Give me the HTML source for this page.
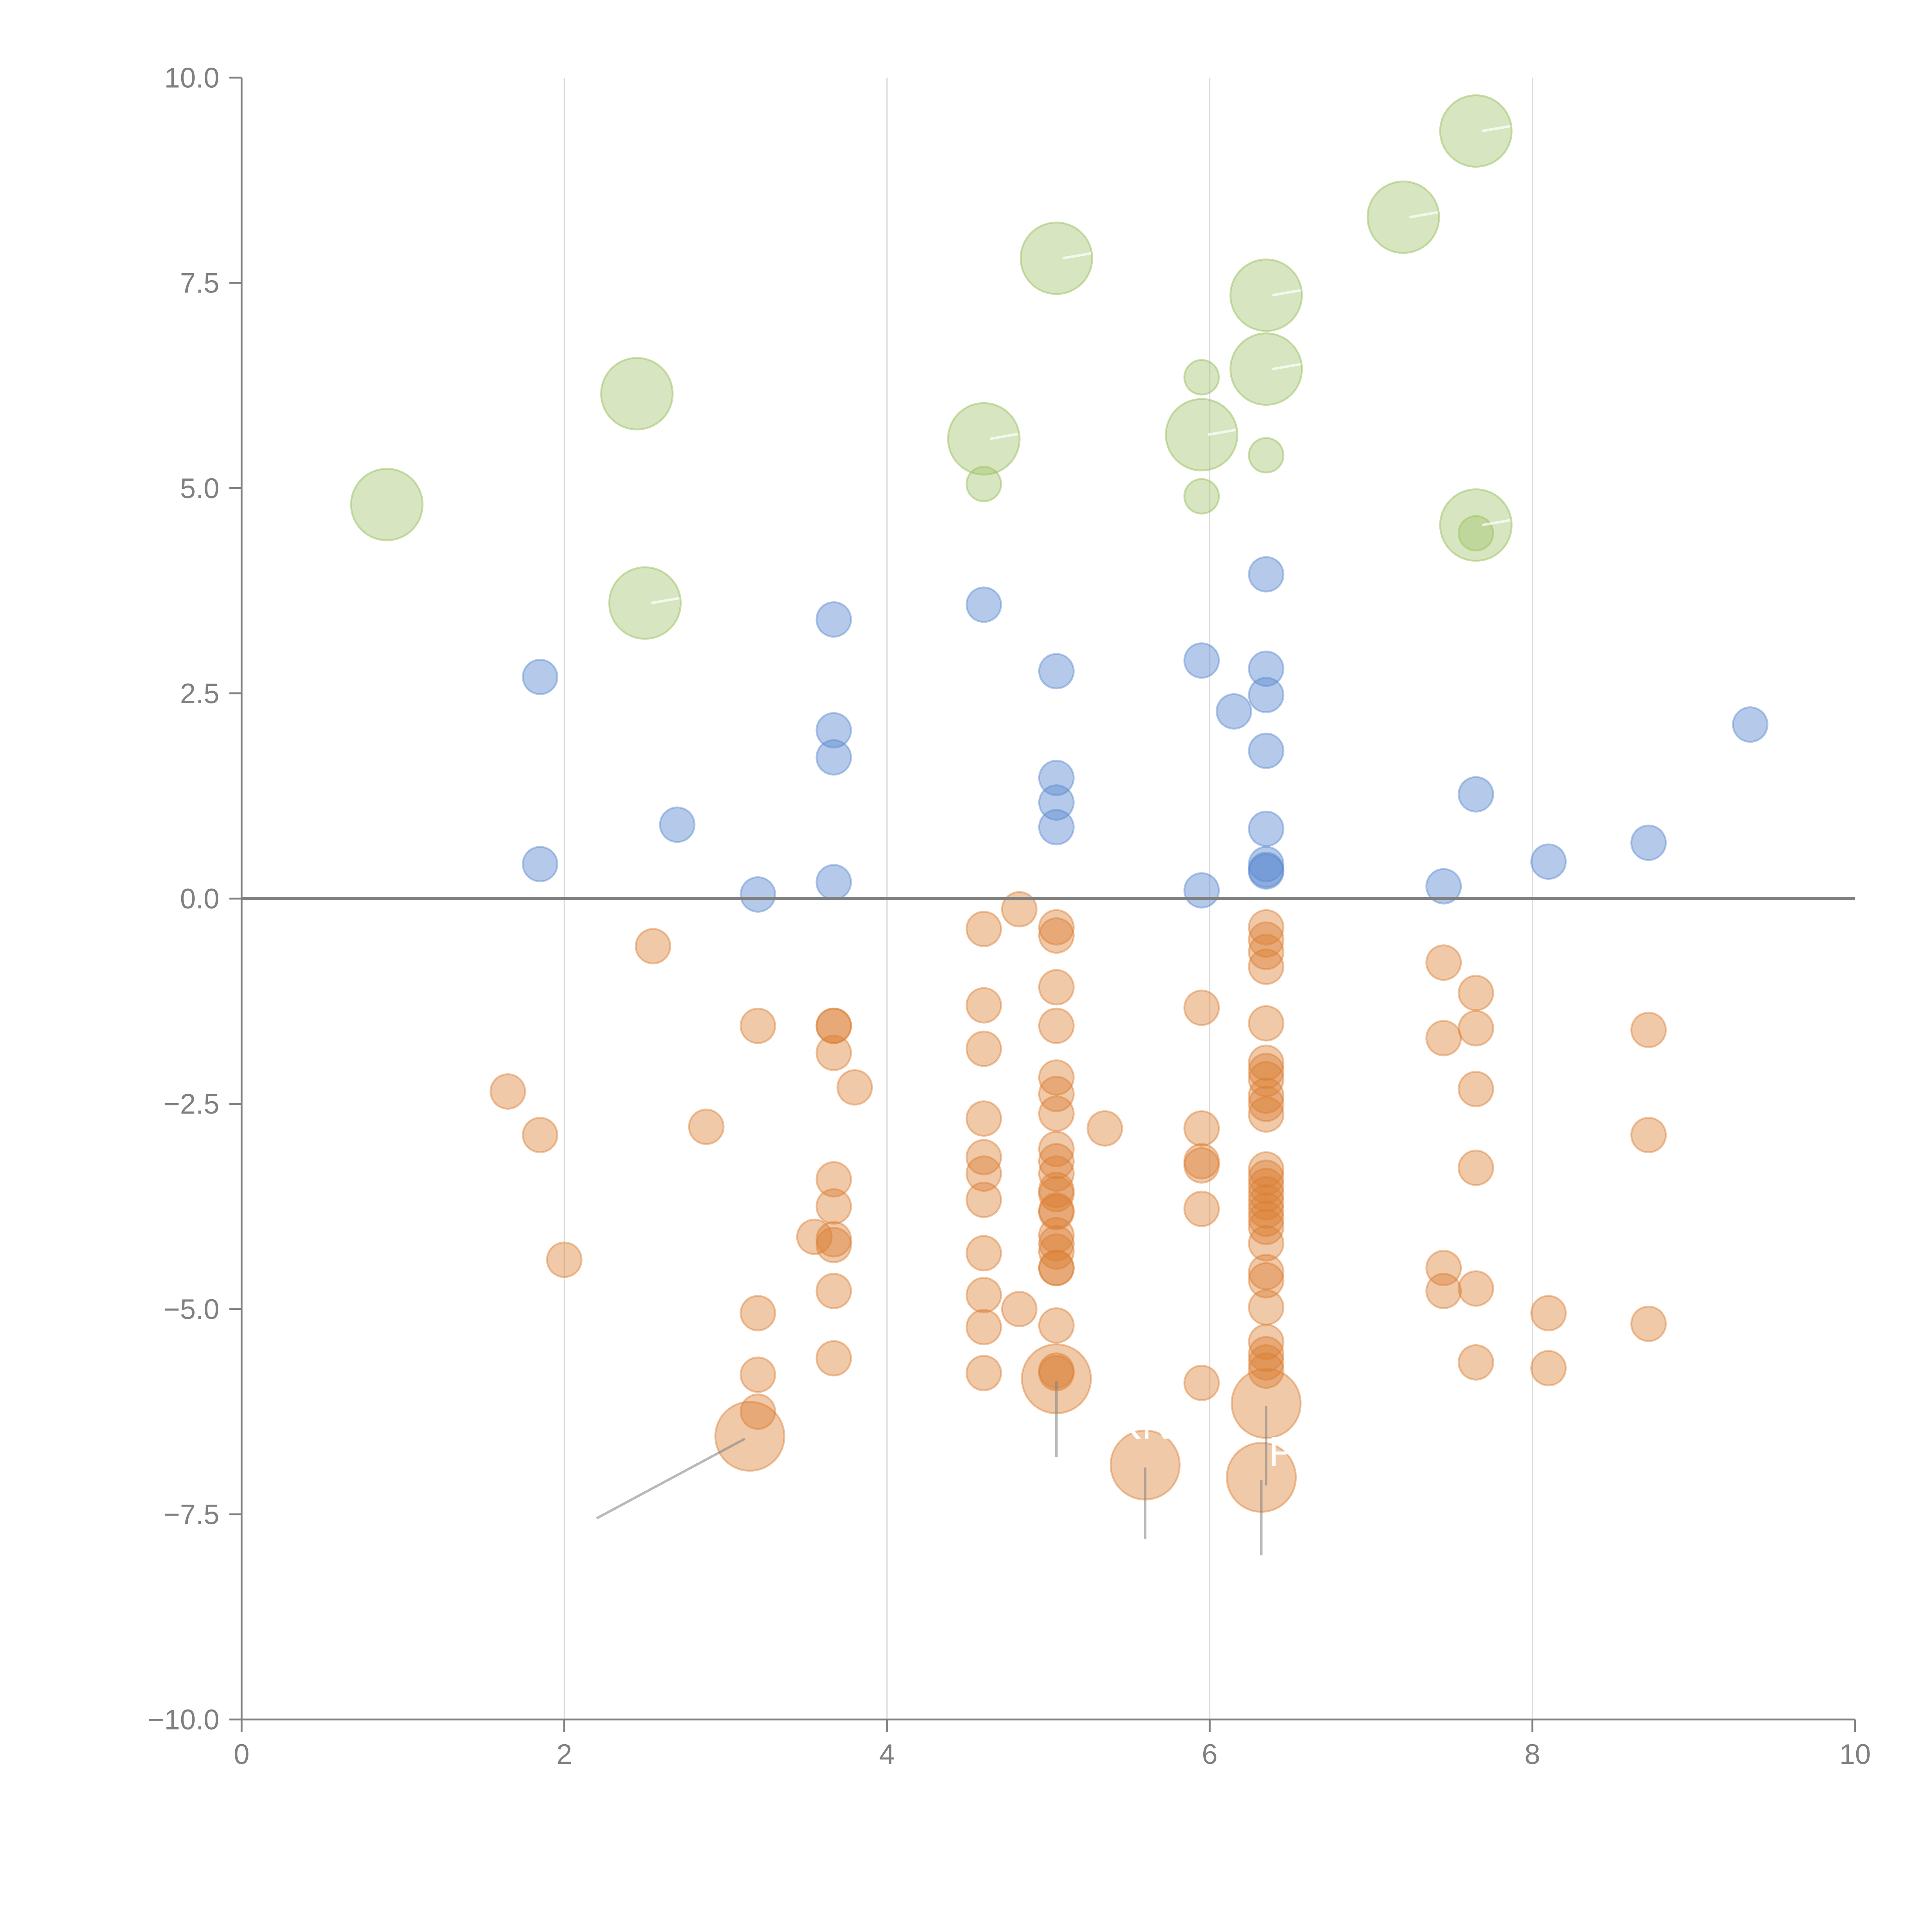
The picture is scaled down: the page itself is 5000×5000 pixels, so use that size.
<!DOCTYPE html>
<html><head><meta charset="utf-8">
<style>
html,body{margin:0;padding:0;background:#fff;}
svg{display:block;}
text{font-family:"Liberation Sans",sans-serif;}
</style></head>
<body>
<svg id="chart" width="5000" height="5000" viewBox="0 0 1567.4 1567.4" xmlns="http://www.w3.org/2000/svg">
<g id="grid"></g>
<g id="marks"></g>
<g id="axes"></g>
</svg>
<script>
const xTicks=[0,2,4,6,8,10];
const yTicks=[-10,-7.5,-5,-2.5,0,2.5,5,7.5,10];
const yTickLabels=["\u221210.0","\u22127.5","\u22125.0","\u22122.5","0.0","2.5","5.0","7.5","10.0"];
const greenX=[0.9,2.45,2.5,4.6,5.05,5.95,6.35,6.35,7.2,7.65,7.65,4.6,5.95,5.95,6.35,7.65];
const greenY=[4.8,6.15,3.6,5.6,7.8,5.65,7.35,6.45,8.3,9.35,4.55,5.05,6.35,4.9,5.4,4.45];
const greenBig=[1,1,1,1,1,1,1,1,1,1,1,0,0,0,0,0];
const blueX=[1.85,1.85,2.7,3.2,3.67,3.67,3.67,3.67,4.6,5.05,5.05,5.05,5.05,5.95,5.95,6.15,6.35,6.35,6.35,6.35,6.35,6.35,6.35,6.35,7.45,7.65,8.1,8.72,9.35];
const blueY=[2.7,0.42,0.9,0.05,3.4,2.05,1.72,0.2,3.58,2.77,1.47,1.17,0.87,2.9,0.1,2.28,3.95,2.8,2.48,1.8,0.85,0.42,0.35,0.33,0.15,1.27,0.45,0.68,2.12];
const orangeX=[1.65,1.85,2.0,2.55,2.88,3.2,3.2,3.2,3.2,3.55,
3.67,3.67,3.67,3.67,3.67,3.67,3.67,3.67,3.67,3.8,
4.6,4.6,4.6,4.6,4.6,4.6,4.6,4.6,4.6,4.6,4.6,4.82,4.82,
5.05,5.05,5.05,5.05,5.05,5.05,5.05,5.05,5.05,5.05,5.05,5.05,5.05,5.05,5.05,5.05,5.05,5.05,5.05,5.05,5.05,5.05,
5.35,5.95,5.95,5.95,5.95,5.95,5.95,
6.35,6.35,6.35,6.35,6.35,6.35,6.35,6.35,6.35,6.35,6.35,6.35,6.35,6.35,6.35,6.35,6.35,6.35,6.35,6.35,6.35,6.35,6.35,6.35,6.35,6.35,6.35,
7.45,7.45,7.45,7.45,7.65,7.65,7.65,7.65,7.65,7.65,8.1,8.1,8.72,8.72,8.72];
const orangeY=[-2.35,-2.88,-4.4,-0.58,-2.78,-1.55,-5.05,-5.8,-6.25,-4.12,
-1.55,-1.55,-1.88,-3.42,-3.75,-4.15,-4.22,-4.78,-5.6,-2.3,
-0.37,-1.3,-1.83,-2.68,-3.15,-3.35,-3.67,-4.32,-4.83,-5.22,-5.78,-0.13,-5.0,
-0.35,-0.45,-1.08,-1.55,-2.18,-2.38,-2.62,-3.05,-3.2,-3.35,-3.55,-3.6,-3.8,-3.82,-4.1,-4.2,-4.3,-4.5,-4.5,-5.2,-5.75,-5.78,
-2.8,-1.33,-2.8,-3.2,-3.25,-3.78,-5.9,
-0.35,-0.5,-0.65,-0.83,-1.52,-2.0,-2.1,-2.2,-2.4,-2.5,-2.63,-3.3,-3.4,-3.5,-3.6,-3.7,-3.8,-3.9,-4.0,-4.2,-4.55,-4.65,-4.98,-5.4,-5.55,-5.65,-5.75,
-0.78,-1.7,-4.5,-4.78,-1.15,-1.58,-2.32,-3.28,-4.75,-5.65,-5.05,-5.72,-1.6,-2.88,-5.18];
const orangeBigX=[5.05,3.15,5.6,6.35,6.32];
const orangeBigY=[-5.85,-6.55,-6.9,-6.15,-7.05];
const leaderX2=[5.05,2.2,5.6,6.35,6.32];
const leaderY2=[-6.8,-7.55,-7.8,-7.15,-8.0];

const NS="http://www.w3.org/2000/svg";
const L=196,R=1505,T=63,B=1395;
function sx(v){return L+(v-0)/(10-0)*(R-L);}
function sy(v){return B-(v+10)/20*(B-T);}
function el(tag,attrs,parent){const e=document.createElementNS(NS,tag);for(const k in attrs)e.setAttribute(k,attrs[k]);parent.appendChild(e);return e;}
const grid=document.getElementById('grid'),marks=document.getElementById('marks'),axes=document.getElementById('axes');

xTicks.forEach(t=>{if(t>0&&t<10){const g=el('line',{x1:sx(t),x2:sx(t),y1:T,y2:B,stroke:'#dcdcdc','stroke-width':1},grid);

}});

function circ(x,y,r,fill,stroke,name){const c=el('circle',{cx:sx(x),cy:sy(y),r:r,fill:fill,stroke:stroke,'stroke-width':1.5},marks);

}
const gF='rgba(160,195,105,0.42)',gS='rgba(160,195,105,0.55)';
const bF='rgba(91,138,208,0.45)',bS='rgba(91,138,208,0.45)';
const oF='rgba(219,126,50,0.42)',oS='rgba(219,126,50,0.45)';
greenX.forEach((x,i)=>circ(x,greenY[i],greenBig[i]?29:14,gF,gS,'green-bubble'));
blueX.forEach((x,i)=>circ(x,blueY[i],14,bF,bS,'blue-bubble'));
orangeX.forEach((x,i)=>circ(x,orangeY[i],14,oF,oS,'orange-bubble'));
orangeBigX.forEach((x,i)=>circ(x,orangeBigY[i],28,oF,oS,'orange-large-bubble'));
greenX.forEach((x,i)=>{if(greenBig[i]&&i>1){const w=el('line',{x1:sx(x)+5,y1:sy(greenY[i]),x2:sx(x)+28,y2:sy(greenY[i])-4,stroke:'rgba(255,255,255,0.7)','stroke-width':2},marks);

}});
orangeBigX.forEach((x,i)=>{const ln=el('line',{x1:sx(x)+(i==1?-4:0),y1:sy(orangeBigY[i])+2,x2:sx(leaderX2[i]),y2:sy(leaderY2[i]),stroke:'rgba(128,128,128,0.55)','stroke-width':2},marks);

});
const t1=el('text',{x:sx(5.6)-2,y:sy(-6.4)+12,fill:'#fff','font-size':34,'text-anchor':'middle'},marks);t1.textContent='KN';


const t2=el('text',{x:sx(6.32)+17,y:sy(-6.7)+14,fill:'#fff','font-size':34,'text-anchor':'middle'},marks);t2.textContent='P';



const z=el('line',{x1:L,x2:R,y1:sy(0),y2:sy(0),stroke:'#808080','stroke-width':2.5},axes);


const ya=el('line',{x1:L,x2:L,y1:T,y2:B,stroke:'#808080','stroke-width':1.5},axes);


const xa=el('line',{x1:L,x2:R,y1:B,y2:B,stroke:'#808080','stroke-width':1.5},axes);


yTicks.forEach((t,i)=>{const tk=el('line',{x1:L-10,x2:L,y1:sy(t),y2:sy(t),stroke:'#808080','stroke-width':1.5},axes);


const tx=el('text',{x:L-18,y:sy(t)+8,fill:'#808080','font-size':23,'text-anchor':'end'},axes);tx.textContent=yTickLabels[i];

});
xTicks.forEach(t=>{const tk=el('line',{x1:sx(t),x2:sx(t),y1:B,y2:B+10,stroke:'#808080','stroke-width':1.5},axes);


const tx=el('text',{x:sx(t),y:B+36,fill:'#808080','font-size':23,'text-anchor':'middle'},axes);tx.textContent=String(t);

});
</script>
</body></html>
